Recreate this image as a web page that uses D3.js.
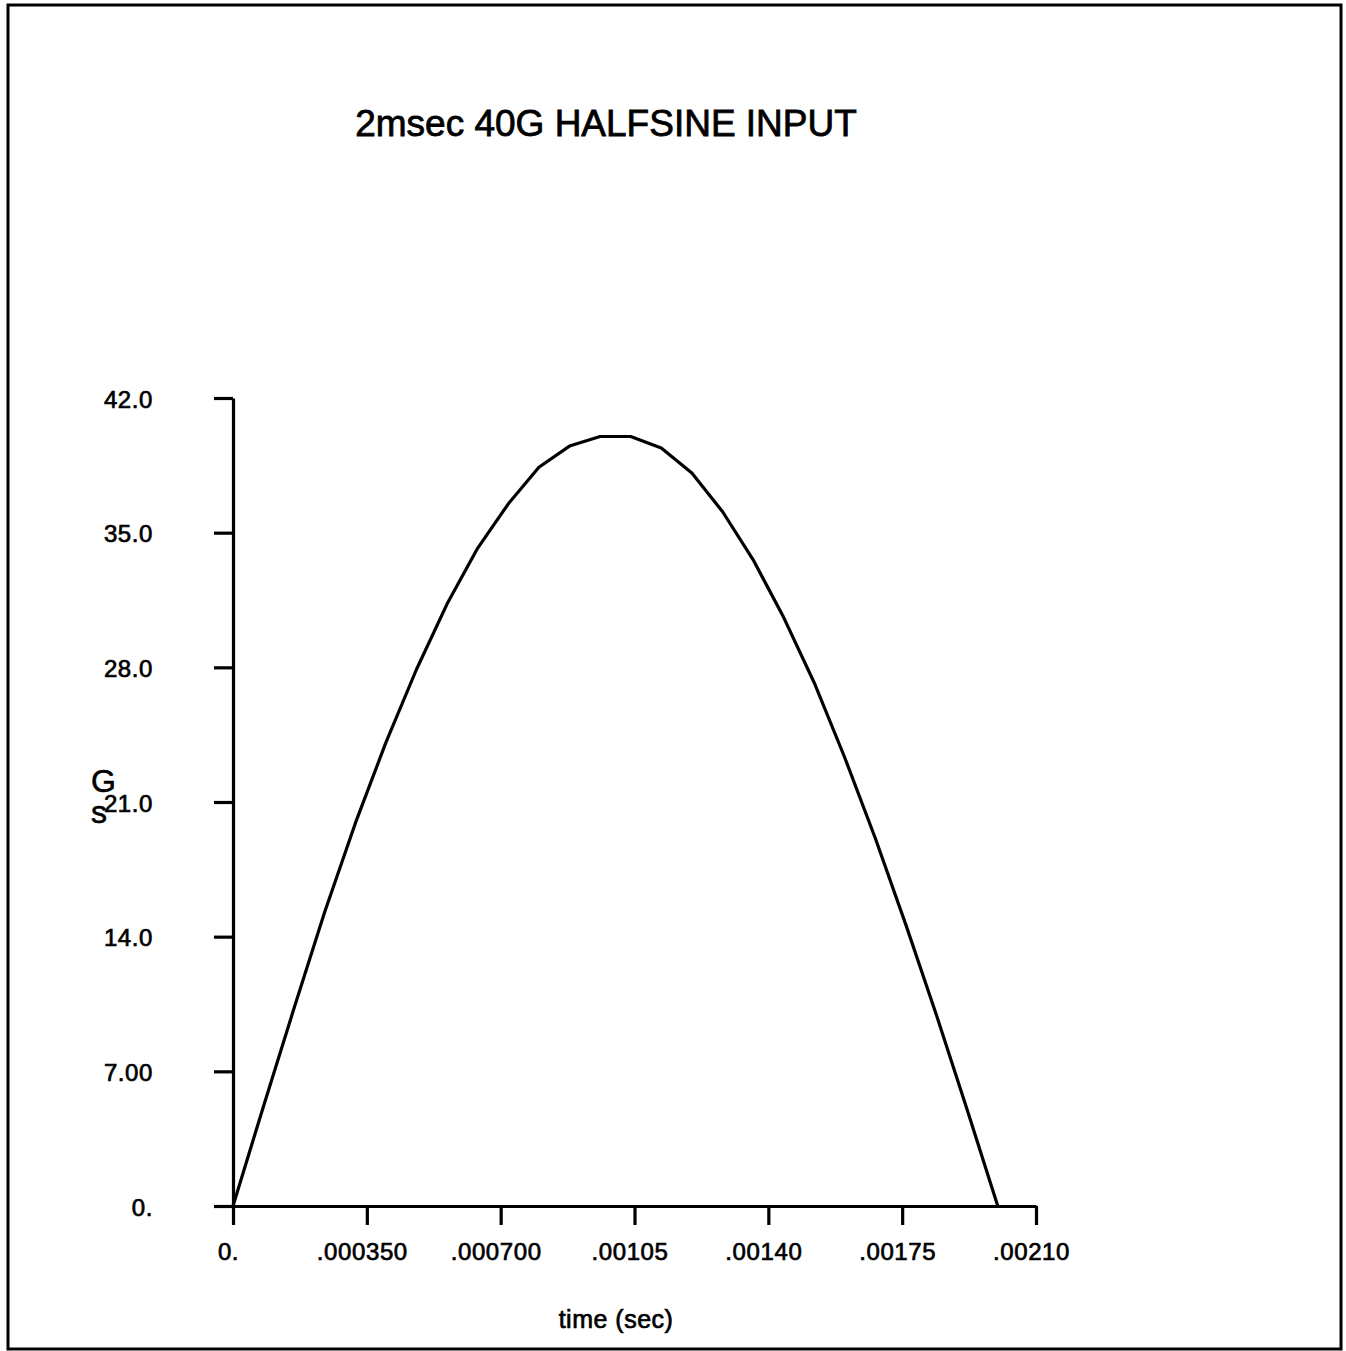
<!DOCTYPE html>
<html lang="en">
  <head>
    <meta charset="UTF-8">
    <title>2msec 40G HALFSINE INPUT</title>
    <script src="https://d3js.org/d3.v7.min.js"></script>
    <style>
      body { margin: 0; background: #fff; }
      text { font-family: "Liberation Sans", Arial, sans-serif; fill: #000; }
    </style>
  </head>
  <body>
    <svg id="chart" width="1346" height="1351"></svg>
  <script>
    // sample times (sec) and acceleration (G)
    var times = [0, .00008, .00016, .00024, .00032, .00040, .00048, .00056, .00064,
                 .00072, .00080, .00088, .00096, .00104, .00112, .00120, .00128,
                 .00136, .00144, .00152, .00160, .00168, .00176, .00184, .00192, .00200];
    var gees  = [0, 5.2, 10.3, 15.3, 19.9, 24.1, 27.9, 31.3, 34.2,
                 36.5, 38.4, 39.5, 40.0, 40.0, 39.4, 38.1, 36.1,
                 33.6, 30.6, 27.2, 23.3, 19.1, 14.6, 9.9, 5.0, 0];

    var xTicks = [0, .00035, .0007, .00105, .0014, .00175, .0021];
    var xTickLabels = ["0.", ".000350", ".000700", ".00105", ".00140", ".00175", ".00210"];
    var yTicks = [0, 7, 14, 21, 28, 35, 42];
    var yTickLabels = ["0.", "7.00", "14.0", "21.0", "28.0", "35.0", "42.0"];

    var svg = d3.select("#chart");

    // page frame
    svg.append("rect")
      .attr("x", 8).attr("y", 5)
      .attr("width", 1333).attr("height", 1344)
      .attr("fill", "none").attr("stroke", "#000").attr("stroke-width", 3);

    var x = d3.scaleLinear().domain([0, .0021]).range([233, 1036]);
    var y = d3.scaleLinear().domain([0, 42]).range([1206, 398]);

    // x axis
    var gx = svg.append("g")
      .attr("transform", "translate(0,1206)")
      .call(d3.axisBottom(x)
        .tickValues(xTicks)
        .tickSize(19)
        .tickSizeOuter(0)
        .tickPadding(0)
        .tickFormat(function(d, i) { return xTickLabels[i]; }));

    gx.selectAll("text")
      .attr("y", 54).attr("dy", 0).attr("dx", -5)
      .attr("font-size", "24px")
      .attr("letter-spacing", "0.6px")
      .attr("stroke", "#000").attr("stroke-width", 0.7);

    // y axis
    var gy = svg.append("g")
      .attr("transform", "translate(233,0)")
      .call(d3.axisLeft(y)
        .tickValues(yTicks)
        .tickSize(19)
        .tickSizeOuter(0)
        .tickPadding(61)
        .tickFormat(function(d, i) { return yTickLabels[i]; }));

    gy.selectAll("text")
      .attr("dy", "0.38em")
      .attr("font-size", "24px")
      .attr("letter-spacing", "0.6px")
      .attr("stroke", "#000").attr("stroke-width", 0.7);

    svg.selectAll(".domain, .tick line")
      .attr("stroke", "#000").attr("stroke-width", 3.2);

    // the halfsine trace
    var pts = times.map(function(t, i) { return [t, gees[i]]; });
    svg.append("path")
      .datum(pts)
      .attr("fill", "none")
      .attr("stroke", "#000")
      .attr("stroke-width", 3.2)
      .attr("stroke-linejoin", "round")
      .attr("d", d3.line()
        .x(function(d) { return x(d[0]); })
        .y(function(d) { return y(d[1]); }));

    // title
    svg.append("text")
      .attr("x", 606).attr("y", 136)
      .attr("text-anchor", "middle")
      .attr("font-size", "37px")
      .attr("stroke", "#000").attr("stroke-width", 0.8)
      .text("2msec 40G HALFSINE INPUT");

    // y axis label, stacked letters (they touch the 21.0 label, as in the original)
    svg.append("text")
      .attr("x", 91).attr("y", 792)
      .attr("font-size", "32px")
      .attr("stroke", "#000").attr("stroke-width", 0.6)
      .text("G");
    svg.append("text")
      .attr("x", 91).attr("y", 823)
      .attr("font-size", "32px")
      .attr("stroke", "#000").attr("stroke-width", 0.6)
      .text("s");

    // x axis label
    svg.append("text")
      .attr("x", 616).attr("y", 1328)
      .attr("text-anchor", "middle")
      .attr("font-size", "25px")
      .attr("letter-spacing", "0.5px")
      .attr("stroke", "#000").attr("stroke-width", 0.7)
      .text("time (sec)");
  </script>
  </body>
</html>
